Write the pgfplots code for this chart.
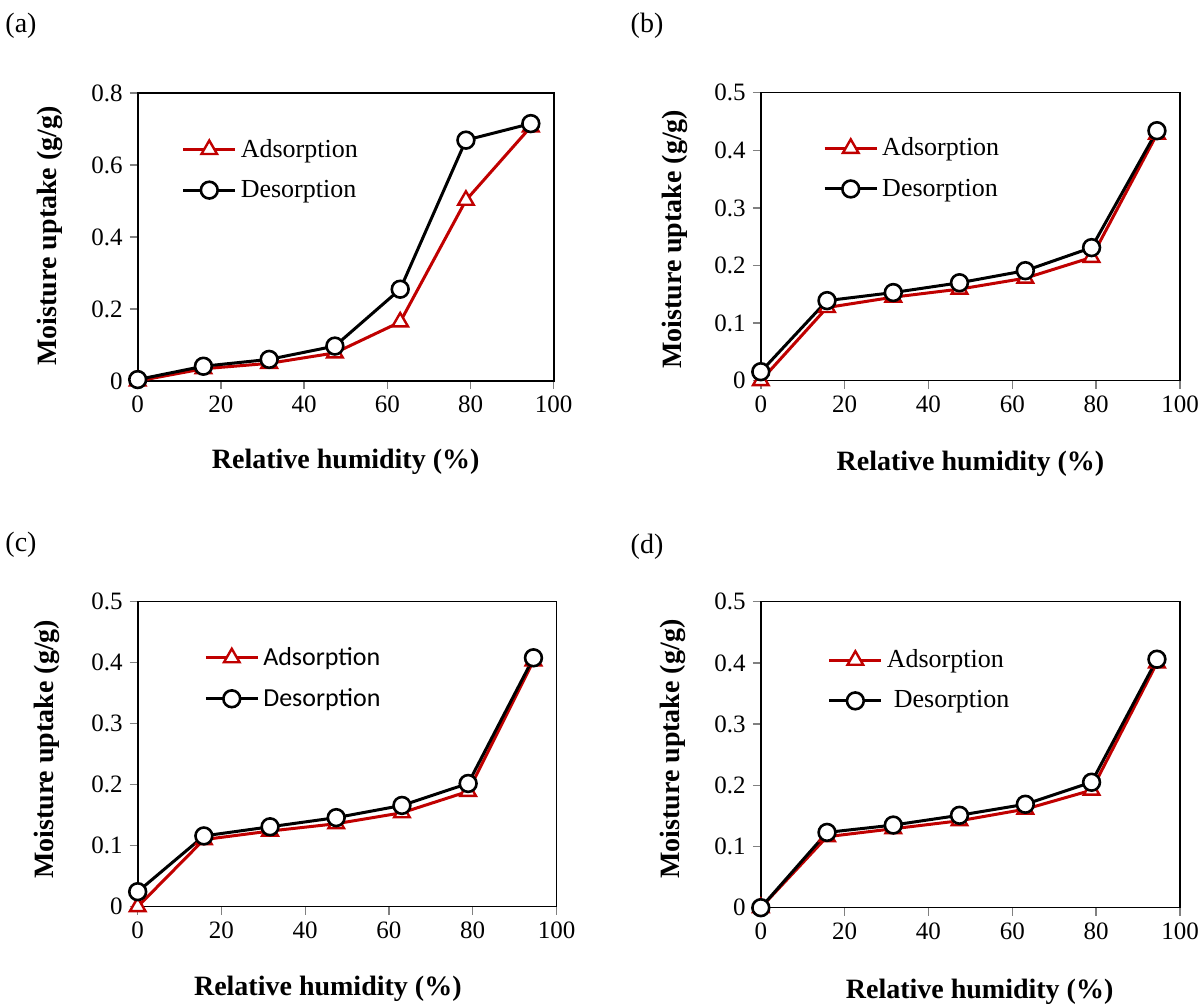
\documentclass[border=0pt]{standalone}
\usepackage{pgfplots}
\pgfplotsset{compat=1.18}
\usepackage{fontspec}
\setmainfont{Liberation Serif}
\newfontfamily\carlito{Carlito}
\definecolor{dred}{RGB}{192,0,0}
\definecolor{tgray}{RGB}{128,128,128}
\pgfplotsset{
  panel/.style={
    scale only axis, clip=false,
    xmin=0,xmax=100, xtick={0,20,...,100},
    ymin=0,
    tick align=outside, xtick pos=bottom, ytick pos=left,
    major tick length=4pt,
    axis line style={line width=0.8pt},
    every tick/.style={tgray, line width=0.7pt},
    /pgf/number format/assume math mode=true,
    xticklabel={\pgfmathprintnumber{\tick}},
    yticklabel={\pgfmathprintnumber{\tick}},
    tick label style={font=\rmfamily\fontsize{12.5}{12.5}\selectfont},
    label style={font=\bfseries\fontsize{14}{14}\selectfont},
    xlabel={Relative humidity (\%)},
    ylabel={Moisture uptake (g/g)},
    legend style={draw=none, fill=none, font=\fontsize{13}{13}\selectfont, row sep=6pt, inner sep=0pt, cells={anchor=west}, anchor=west},
    legend image code/.code={\draw[mark repeat=2,mark phase=2,##1] plot coordinates {(0pt,0pt) (13pt,0pt) (26pt,0pt)};},
  },
  ads/.style={dred, line width=1.5pt, mark=triangle*, mark size=4.5pt, mark options={fill=white, draw=dred, line width=1.2pt, solid}},
  des/.style={black, line width=1.5pt, mark=*, mark size=4.2pt, mark options={fill=white, draw=black, line width=1.3pt, solid}},
}
\begin{document}
\begin{tikzpicture}
\path[use as bounding box] (0,0) rectangle (600pt,502.5pt);
\node[font=\fontsize{14}{14}\selectfont] at (10.5pt,489.5pt) {(a)};
\node[font=\fontsize{14}{14}\selectfont] at (323.5pt,489.5pt) {(b)};
\node[font=\fontsize{14}{14}\selectfont] at (10.5pt,230pt) {(c)};
\node[font=\fontsize{14}{14}\selectfont] at (323.5pt,229pt) {(d)};

% (a)
\begin{axis}[panel, at={(68.85pt,312pt)}, anchor=south west, width=208pt, height=144pt,
  ymax=0.8, ytick={0,0.2,...,0.8},
  xlabel style={at={(axis description cs:0.5,-0.281)}, anchor=center},
  ylabel style={at={(axis description cs:-0.211,0.504)}, anchor=center},
  legend style={at={(axis description cs:0.105,0.734)}}]
\addplot[ads] coordinates {(0,0) (15.8,0.034) (31.6,0.049) (47.4,0.078) (63.1,0.164) (78.9,0.502) (94.5,0.706)};
\addlegendentry{Adsorption}
\addplot[des] coordinates {(0,0.004) (15.8,0.041) (31.6,0.060) (47.4,0.097) (63.1,0.255) (78.9,0.669) (94.5,0.715)};
\addlegendentry{Desorption}
\end{axis}

% (b)
\begin{axis}[panel, at={(380.4pt,312.15pt)}, anchor=south west, width=209.6pt, height=144pt,
  ymax=0.5, ytick={0,0.1,...,0.5},
  xlabel style={at={(axis description cs:0.5,-0.287)}, anchor=center},
  ylabel style={at={(axis description cs:-0.205,0.491)}, anchor=center},
  legend style={at={(axis description cs:0.148,0.737)}}]
\addplot[ads] coordinates {(0,0) (15.8,0.127) (31.6,0.145) (47.4,0.159) (63.1,0.178) (78.9,0.214) (94.5,0.428)};
\addlegendentry{Adsorption}
\addplot[des] coordinates {(0,0.0156) (15.8,0.139) (31.6,0.153) (47.4,0.170) (63.1,0.191) (78.9,0.231) (94.5,0.434)};
\addlegendentry{Desorption}
\end{axis}

% (c)
\begin{axis}[panel, at={(68.85pt,49.15pt)}, anchor=south west, width=209.4pt, height=152.5pt,
  ymax=0.5, ytick={0,0.1,...,0.5},
  xlabel style={at={(axis description cs:0.454,-0.268)}, anchor=center},
  ylabel style={at={(axis description cs:-0.2166,0.516)}, anchor=center},
  legend style={at={(axis description cs:0.158,0.749)}, font=\carlito\fontsize{13}{13}\selectfont}]
\addplot[ads] coordinates {(0,0) (15.8,0.110) (31.6,0.124) (47.4,0.136) (63.1,0.154) (78.9,0.189) (94.5,0.403)};
\addlegendentry{Adsorption}
\addplot[des] coordinates {(0,0.0246) (15.8,0.116) (31.6,0.131) (47.4,0.146) (63.1,0.166) (78.9,0.202) (94.5,0.408)};
\addlegendentry{Desorption}
\end{axis}

% (d)
\begin{axis}[panel, at={(380.4pt,48.65pt)}, anchor=south west, width=209.6pt, height=153pt,
  ymax=0.5, ytick={0,0.1,...,0.5},
  xlabel style={at={(axis description cs:0.522,-0.275)}, anchor=center},
  ylabel style={at={(axis description cs:-0.209,0.518)}, anchor=center},
  legend style={at={(axis description cs:0.159,0.743)}}]
\addplot[ads] coordinates {(0,0) (15.8,0.116) (31.6,0.129) (47.4,0.142) (63.1,0.161) (78.9,0.192) (94.5,0.400)};
\addlegendentry{Adsorption}
\addplot[des] coordinates {(0,0) (15.8,0.123) (31.6,0.135) (47.4,0.151) (63.1,0.169) (78.9,0.205) (94.5,0.406)};
\addlegendentry{\hspace{3.5pt}Desorption}
\end{axis}
\end{tikzpicture}
\end{document}
